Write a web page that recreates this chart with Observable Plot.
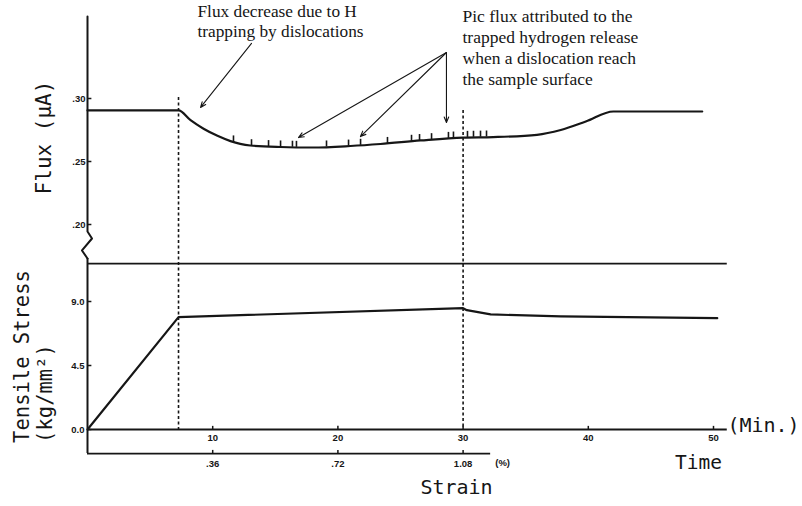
<!DOCTYPE html>
<html><head><meta charset="utf-8">
<script src="https://cdn.jsdelivr.net/npm/d3@7"></script>
<script src="https://cdn.jsdelivr.net/npm/@observablehq/plot@0.6"></script>
<style>
body{margin:0;background:#fff;}
#chart{position:relative;width:802px;height:506px;}
#chart svg{position:absolute;left:0;top:0;}
</style></head><body><div id="chart"></div>
<script>
// ---- data ----
const fluxTime  = [0, 7.27, 8.23, 9.27, 10.38, 11.42, 12.2, 13.0, 15.4, 18.0, 21.0, 23.4, 26.6, 30.0, 32.4, 35.9, 37.8, 39.8, 42.0, 49.1];
const fluxValue = [0.2905, 0.2905, 0.2828, 0.2760, 0.2704, 0.2662, 0.2640, 0.2627, 0.2615, 0.2611, 0.2623, 0.2639, 0.2667, 0.2690, 0.2694, 0.2712, 0.2750, 0.2817, 0.2897, 0.2897];
const spikeTime = [11.66, 13.10, 14.46, 15.42, 16.37, 16.69, 19.09, 20.85, 21.81, 23.96, 25.88, 26.52, 27.48, 28.83, 29.23, 30.35, 30.83, 31.39, 31.87];
const spikeBase = [0.2655, 0.2625, 0.2618, 0.2615, 0.2613, 0.2612, 0.2615, 0.2622, 0.2628, 0.2643, 0.2660, 0.2666, 0.2673, 0.2683, 0.2686, 0.2691, 0.2692, 0.2693, 0.2694];
const spikeHeight = 0.0048;
const stressTime  = [0, 7.27, 30.0, 30.3, 32.2, 37.8, 50.3];
const stressValue = [0, 7.90, 8.53, 8.39, 8.09, 7.95, 7.83];
const markerTime = [7.27, 30.0];
const markerTopFlux = [0.3008, 0.2905];
const fluxTicks = [0.20, 0.25, 0.30];
const stressTicks = [0, 4.5, 9.0];
const timeTicks = [10, 20, 30, 40, 50];
const strainTickLabels = [".36", ".72", "1.08"];
// axis line with break (time, flux)
const breakTime = [0, 0, 0, 0.36, -0.44, 0];
const breakFlux = [0.365, 0.20, 0.1944, 0.1889, 0.1794, 0.1730];
// annotation arrows (time, flux)
const arrowFrom = [[13.1, 0.3437], [28.67, 0.3365], [28.67, 0.3365], [28.67, 0.3365]];
const arrowTo   = [[9.03, 0.2929], [16.85, 0.2690], [21.8, 0.2698], [28.67, 0.2810]];
const timeAxisEnd = 51.1, strainAxisEnd = 32.2, separatorStress = 11.67, strainLevel = -1.69;

const ink = "#161616";
const mono = "'DejaVu Sans Mono', monospace";
const small = "'Liberation Sans', Arial, sans-serif";
const serif = "'Liberation Serif', 'Times New Roman', serif";

const fluxY = {domain: [0.20, 0.30], range: [224, 98]};
const stressY = {domain: [0, 9], range: [429, 301]};
const fs = Plot.scale({y: fluxY}), ss = Plot.scale({y: stressY});
const fluxAtStressZero = fs.invert(ss.apply(0));
const stressAtBreak = ss.invert(fs.apply(breakFlux[breakFlux.length - 1]));

const fluxData = fluxTime.map((t, i) => ({t, f: fluxValue[i]}));
const spikes = spikeTime.map((t, i) => ({t, f: spikeBase[i]}));
const stressData = stressTime.map((t, i) => ({t, s: stressValue[i]}));
const axisPts = breakTime.map((t, i) => ({t, f: breakFlux[i]}));
const markers = markerTime.map((t, i) => ({t, top: markerTopFlux[i]}));
const arrows = arrowFrom.map((a, i) => ({x1: a[0], y1: a[1], x2: arrowTo[i][0], y2: arrowTo[i][1]}));
const strainTicks = timeTicks.slice(0, 3).map((t, i) => ({t, label: strainTickLabels[i]}));

const common = {
  width: 802, height: 506, marginLeft: 87, marginRight: 89,
  x: {domain: [0, 50], axis: null},
  style: {background: "transparent", overflow: "visible"}
};
const big = {fontFamily: mono, fill: ink, textAnchor: "middle", lineAnchor: "middle"};
const tick = {fontSize: 9.5, fontWeight: "bold", fontFamily: small, fill: ink};

const fluxPlot = Plot.plot({
  ...common,
  marginTop: 98, marginBottom: 282,
  y: {domain: fluxY.domain, axis: null},
  marks: [
    Plot.line(axisPts, {x: "t", y: "f", stroke: ink, strokeWidth: 2}),
    Plot.ruleY(fluxTicks, {x1: 0, x2: 0.35, stroke: ink, strokeWidth: 1.5}),
    Plot.text(fluxTicks, {x: 0, y: d => d, text: d => d.toFixed(2).slice(1), textAnchor: "end", dx: -2, ...tick}),
    Plot.ruleX(markers, {x: "t", y1: "top", y2: fluxAtStressZero, stroke: ink, strokeWidth: 1.6, strokeDasharray: "3,2.5"}),
    Plot.line(fluxData, {x: "t", y: "f", curve: "monotone-x", stroke: ink, strokeWidth: 2.2}),
    Plot.ruleX(spikes, {x: "t", y1: "f", y2: d => d.f + spikeHeight, stroke: ink, strokeWidth: 1.6}),
    Plot.arrow(arrows, {x1: "x1", y1: "y1", x2: "x2", y2: "y2", stroke: ink, strokeWidth: 1.1, headLength: 8, headAngle: 45}),
    Plot.text(["Flux (μA)"], {frameAnchor: "left", rotate: -90, dx: -43, dy: -24, fontSize: 21, ...big}),
    Plot.text(["Flux decrease due to H\ntrapping by dislocations"], {frameAnchor: "top-left", textAnchor: "start", lineAnchor: "middle", lineHeight: 1.17, dx: 110, dy: -78, fontSize: 17.3, fontFamily: serif, fill: ink}),
    Plot.text(["Pic flux attributed to the\ntrapped hydrogen release\nwhen a dislocation reach\nthe sample surface"], {frameAnchor: "top-left", textAnchor: "start", lineAnchor: "middle", lineHeight: 1.2, dx: 375, dy: -51.5, fontSize: 17.5, fontFamily: serif, fill: ink})
  ]
});

const stressPlot = Plot.plot({
  ...common,
  marginTop: 301, marginBottom: 77,
  y: {domain: stressY.domain, axis: null},
  marks: [
    Plot.ruleX([0], {y1: strainLevel, y2: stressAtBreak, stroke: ink, strokeWidth: 2}),
    Plot.ruleY([separatorStress], {x1: 0, x2: timeAxisEnd, stroke: ink, strokeWidth: 1.8}),
    Plot.ruleY([0], {x1: 0, x2: timeAxisEnd, stroke: ink, strokeWidth: 1.8}),
    Plot.ruleY([strainLevel], {x1: 0, x2: strainAxisEnd, stroke: ink, strokeWidth: 1.8}),
    Plot.ruleY(stressTicks, {x1: 0, x2: 0.35, stroke: ink, strokeWidth: 1.5}),
    Plot.text(stressTicks, {x: 0, y: d => d, text: d => d.toFixed(1), textAnchor: "end", dx: -3, ...tick}),
    Plot.ruleX(timeTicks, {y1: 0, y2: 0.22, stroke: ink, strokeWidth: 1.5}),
    Plot.text(timeTicks, {x: d => d, y: 0, text: d => String(d), dy: 8, ...tick}),
    Plot.ruleX(strainTicks, {x: "t", y1: strainLevel, y2: strainLevel + 0.22, stroke: ink, strokeWidth: 1.5}),
    Plot.text(strainTicks, {x: "t", y: strainLevel, text: "label", dy: 10, ...tick}),
    Plot.text(["(%)"], {x: strainAxisEnd, y: strainLevel, dx: 12, dy: 9, ...tick}),
    Plot.line(stressData, {x: "t", y: "s", stroke: ink, strokeWidth: 2.2}),
    Plot.text(["Tensile Stress"], {frameAnchor: "left", rotate: -90, dx: -65, dy: -9, fontSize: 20.5, ...big}),
    Plot.text(["(kg/mm²)"], {frameAnchor: "left", rotate: -90, dx: -42, dy: 28, fontSize: 20.5, ...big}),
    Plot.text(["(Min.)"], {frameAnchor: "bottom-right", dx: 50, dy: -4, fontSize: 20, ...big}),
    Plot.text(["Time"], {frameAnchor: "bottom-right", dx: -15, dy: 33, fontSize: 19.5, ...big}),
    Plot.text(["Strain"], {frameAnchor: "bottom", dx: 56, dy: 58, fontSize: 20, ...big})
  ]
});

const chart = document.getElementById("chart");
chart.appendChild(stressPlot);
chart.appendChild(fluxPlot);
</script>
</body></html>
